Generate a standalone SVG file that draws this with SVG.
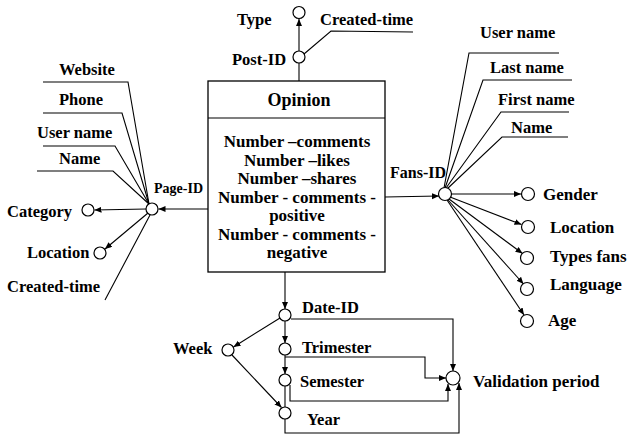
<svg xmlns="http://www.w3.org/2000/svg" width="627" height="435" viewBox="0 0 627 435">
  <style>
    text { font-family: "Liberation Serif", "Times New Roman", serif; font-weight: bold; font-size: 16.5px; fill: #000; }
    .big { font-size: 17px; }
    .title { font-size: 18px; }
    .small { font-size: 14px; }
    .mid { font-size: 16px; }
    .mid-c { text-anchor: middle; }
    .attr { fill: #fff; stroke: #000; stroke-width: 1.2; }
    .box { fill: #fff; stroke: #000; stroke-width: 1.3; }
    .ln { fill: none; stroke: #000; stroke-width: 1.1; }
    .arr { fill: none; stroke: #000; stroke-width: 1.1; marker-end: url(#head); }
  </style>
  <defs>
    <marker id="head" markerUnits="userSpaceOnUse" markerWidth="8" markerHeight="7" refX="7" refY="3" orient="auto">
      <path d="M0,0 L7,3 L0,6 z" fill="#000"/>
    </marker>
  </defs>
  <rect width="627" height="435" fill="#fff"/>

  <!-- connectors -->
  <g id="connectors">
    <!-- Post-ID -->
    <line class="ln" x1="299" y1="81" x2="299" y2="63"/>
    <line class="arr" x1="299" y1="51" x2="299" y2="19"/>
    <polyline class="ln" points="304,54 331,31 413,32"/>
    <!-- Page-ID -->
    <line class="arr" x1="208" y1="209" x2="158.5" y2="209"/>
    <line class="arr" x1="146" y1="209" x2="94.5" y2="210"/>
    <line class="arr" x1="148" y1="213" x2="105" y2="249"/>
    <line class="ln" x1="150" y1="215" x2="105" y2="300"/>
    <polyline class="ln" points="43,82 128,82 149,204"/>
    <polyline class="ln" points="43,113 122,113 149,204"/>
    <polyline class="ln" points="43,146 115,146 149,204"/>
    <polyline class="ln" points="37,171 113,171 149,204"/>
    <!-- Fans-ID -->
    <line class="arr" x1="385" y1="197" x2="439" y2="196"/>
    <polyline class="ln" points="559,53 469,53 444,188"/>
    <polyline class="ln" points="572,80 483,80 445,188"/>
    <polyline class="ln" points="569,112 501,112 446,188"/>
    <polyline class="ln" points="568,137 502,137 447,189"/>
    <line class="arr" x1="451" y1="194" x2="521" y2="194"/>
    <line class="arr" x1="450" y1="197" x2="521.5" y2="224.5"/>
    <line class="arr" x1="449" y1="199" x2="522.5" y2="253.5"/>
    <line class="arr" x1="448" y1="200" x2="523.5" y2="284"/>
    <line class="arr" x1="447" y1="200" x2="524" y2="315"/>
    <!-- Date-ID -->
    <line class="arr" x1="285" y1="272" x2="285" y2="309"/>
    <line class="arr" x1="280" y1="318" x2="233.5" y2="347"/>
    <line class="arr" x1="285" y1="321" x2="285" y2="343"/>
    <line class="arr" x1="285" y1="355" x2="285" y2="374"/>
    <line class="ln" x1="285" y1="386" x2="285" y2="407"/>
    <line class="arr" x1="232" y1="355" x2="281.5" y2="407.5"/>
    <polyline class="arr" points="291,319 453,319 453,371"/>
    <polyline class="arr" points="285,357 425,357 425,378 446,378"/>
    <polyline class="arr" points="290,385 290,401 448,401 448,384"/>
    <polyline class="arr" points="285,419 285,433 459,433 459,383"/>
  </g>

  <!-- Opinion fact box -->
  <g id="opinion">
    <rect class="box" x="208" y="81" width="177" height="191"/>
    <line class="ln" x1="208" y1="118" x2="385" y2="118"/>
    <text class="title mid-c" x="299" y="106">Opinion</text>
    <text class="big mid-c" x="297" y="147">Number –comments</text>
    <text class="big mid-c" x="297" y="165.5">Number –likes</text>
    <text class="big mid-c" x="297" y="184">Number –shares</text>
    <text class="big mid-c" x="297" y="202.5">Number - comments -</text>
    <text class="big mid-c" x="297" y="221">positive</text>
    <text class="big mid-c" x="297" y="239.5">Number - comments -</text>
    <text class="big mid-c" x="297" y="258">negative</text>
  </g>

  <!-- Post dimension -->
  <g id="post-id">
    <circle class="attr" cx="299" cy="57" r="6"/>
    <text x="232" y="65">Post-ID</text>
  </g>
  <g id="post-type">
    <circle class="attr" cx="299" cy="12.5" r="6"/>
    <text x="237" y="25">Type</text>
  </g>
  <g id="post-created">
    <text x="320" y="25">Created-time</text>
  </g>

  <!-- Page dimension -->
  <g id="page-id">
    <circle class="attr" cx="152" cy="209" r="6"/>
    <text class="small" x="154" y="193">Page-ID</text>
  </g>
  <g id="page-website"><text x="59" y="75">Website</text></g>
  <g id="page-phone"><text x="59" y="105">Phone</text></g>
  <g id="page-username"><text x="37" y="138">User name</text></g>
  <g id="page-name"><text x="59" y="164">Name</text></g>
  <g id="page-category">
    <circle class="attr" cx="88" cy="210" r="6"/>
    <text x="7" y="217">Category</text>
  </g>
  <g id="page-location">
    <circle class="attr" cx="100" cy="253" r="6"/>
    <text x="27" y="258">Location</text>
  </g>
  <g id="page-created"><text x="7" y="292">Created-time</text></g>

  <!-- Fans dimension -->
  <g id="fans-id">
    <circle class="attr" cx="445" cy="194" r="6.5"/>
    <text class="mid" x="390" y="178">Fans-ID</text>
  </g>
  <g id="fans-username"><text x="480" y="38">User name</text></g>
  <g id="fans-lastname"><text x="490" y="73">Last name</text></g>
  <g id="fans-firstname"><text x="498" y="105">First name</text></g>
  <g id="fans-name"><text x="511" y="133">Name</text></g>
  <g id="fans-gender">
    <circle class="attr" cx="528" cy="194" r="6.5"/>
    <text class="big" x="543" y="200">Gender</text>
  </g>
  <g id="fans-location">
    <circle class="attr" cx="528" cy="227" r="6.5"/>
    <text class="big" x="550" y="233">Location</text>
  </g>
  <g id="fans-types">
    <circle class="attr" cx="527" cy="258" r="6.5"/>
    <text class="big" x="550" y="262">Types fans</text>
  </g>
  <g id="fans-language">
    <circle class="attr" cx="527" cy="289" r="6.5"/>
    <text class="big" x="550" y="290">Language</text>
  </g>
  <g id="fans-age">
    <circle class="attr" cx="527" cy="321" r="6.5"/>
    <text class="big" x="548" y="326">Age</text>
  </g>

  <!-- Date dimension -->
  <g id="date-id">
    <circle class="attr" cx="285" cy="315" r="6"/>
    <text x="302" y="313">Date-ID</text>
  </g>
  <g id="date-week">
    <circle class="attr" cx="228" cy="350" r="6"/>
    <text x="173" y="354">Week</text>
  </g>
  <g id="date-trimester">
    <circle class="attr" cx="285" cy="349" r="6"/>
    <text x="302" y="353">Trimester</text>
  </g>
  <g id="date-semester">
    <circle class="attr" cx="285" cy="380" r="6"/>
    <text x="300" y="387">Semester</text>
  </g>
  <g id="date-year">
    <circle class="attr" cx="285" cy="413" r="6"/>
    <text x="307" y="425">Year</text>
  </g>
  <g id="validation-period">
    <circle class="attr" cx="453" cy="378" r="7"/>
    <text class="big" x="473" y="387">Validation period</text>
  </g>
</svg>
